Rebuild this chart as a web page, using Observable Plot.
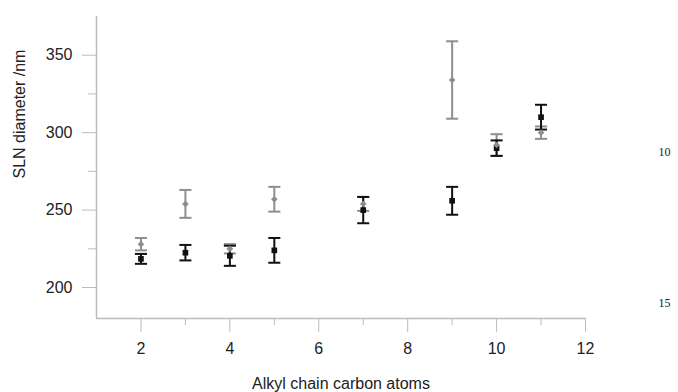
<!DOCTYPE html>
<html>
<head>
<meta charset="utf-8">
<script src="https://cdn.jsdelivr.net/npm/d3@7"></script>
<script src="https://cdn.jsdelivr.net/npm/@observablehq/plot@0.6"></script>
<style>
  html, body { margin: 0; padding: 0; background: #fff; }
</style>
</head>
<body>
<div id="chart"></div>
<script>
// Alkyl chain carbon atoms
const carbons = [2, 3, 4, 5, 7, 9, 10, 11];
// Series A (black squares): mean SLN diameter and error
const blackMean = [218.5, 222.5, 220.5, 224, 250, 256, 290, 310];
const blackErr  = [3.2, 5, 6.5, 8, 8.5, 9, 5, 8];
// Series B (grey diamonds): mean SLN diameter and error
const grayMean = [228, 254, 225, 257, 254, 334, 292, 300];
const grayErr  = [4, 9, 3, 8, 4.5, 25, 7, 4];

const xMajorTicks = [2, 4, 6, 8, 10, 12];
const xMinorTicks = [3, 5, 7, 9, 11];
const yMajorTicks = [200, 250, 300, 350];
const yMinorTicks = [225, 275, 325];
const sideNotes = ["10", "15"];

const black = carbons.map((c, i) => ({x: c, y: blackMean[i], lo: blackMean[i] - blackErr[i], hi: blackMean[i] + blackErr[i]}));
const gray  = carbons.map((c, i) => ({x: c, y: grayMean[i],  lo: grayMean[i] - grayErr[i],   hi: grayMean[i] + grayErr[i]}));

// horizontal cap symbol for error bars
const cap = {draw(ctx, size) { const w = Math.sqrt(size) / 2; ctx.moveTo(-w, 0); ctx.lineTo(w, 0); }};

const GRAY = "#8e8e8e";
const BLACK = "#111";
const AXIS = "#bcbcbc";

function errBars(data, color) {
  return [
    Plot.ruleX(data, {x: "x", y1: "lo", y2: "hi", stroke: color, strokeWidth: 2}),
    Plot.dot(data, {x: "x", y: "lo", symbol: cap, r: 6.8, stroke: color, strokeWidth: 2, fill: "none"}),
    Plot.dot(data, {x: "x", y: "hi", symbol: cap, r: 6.8, stroke: color, strokeWidth: 2, fill: "none"})
  ];
}

const chart = Plot.plot({
  width: 678,
  height: 392,
  marginLeft: 96,
  marginRight: 93,
  marginTop: 16,
  marginBottom: 74,
  x: {domain: [1, 12]},
  y: {domain: [180, 375]},
  style: {fontFamily: "'Liberation Sans', Arial, sans-serif", fontSize: "16px", color: "#222", background: "#fff"},
  marks: [
    Plot.axisX({ticks: xMinorTicks, tickSize: 7, tickFormat: () => "", stroke: AXIS, label: null}),
    Plot.axisX({ticks: xMajorTicks, tickSize: 14, tickPadding: 10, stroke: AXIS, fill: "#222", label: null, fontSize: 16}),
    Plot.axisY({ticks: yMinorTicks, tickSize: 8, tickFormat: () => "", stroke: AXIS, label: null}),
    Plot.axisY({ticks: yMajorTicks, tickSize: 14, tickPadding: 10, stroke: AXIS, fill: "#222", label: null, fontSize: 16}),
    Plot.ruleY([180], {stroke: AXIS, strokeWidth: 1.5}),
    Plot.ruleX([1], {stroke: AXIS, strokeWidth: 1.5}),
    ...errBars(gray, GRAY),
    ...errBars(black, BLACK),
    Plot.dot(black, {x: "x", y: "y", symbol: "square", r: 3.2, fill: BLACK, stroke: "none"}),
    Plot.dot(gray, {x: "x", y: "y", symbol: "diamond2", r: 3, fill: GRAY, stroke: "none"}),
    Plot.text(["Alkyl chain carbon atoms"], {frameAnchor: "bottom", lineAnchor: "middle", text: d => d, dy: 65, fontSize: 16, fill: "#222"}),
    Plot.text(["SLN diameter /nm"], {frameAnchor: "left", lineAnchor: "middle", text: d => d, rotate: -90, dx: -77, dy: 11, fontSize: 16, fill: "#222"}),
    Plot.text([sideNotes[0]], {frameAnchor: "top-right", lineAnchor: "middle", text: d => d, dx: 85, dy: 136, fontFamily: "'Liberation Serif', 'Times New Roman', serif", fontSize: 12, fill: "#222"}),
    Plot.text([sideNotes[1]], {frameAnchor: "top-right", lineAnchor: "middle", text: d => d, dx: 85, dy: 287, fontFamily: "'Liberation Serif', 'Times New Roman', serif", fontSize: 12, fill: "#222"})
  ]
});
document.getElementById("chart").appendChild(chart);
</script>
</body>
</html>
